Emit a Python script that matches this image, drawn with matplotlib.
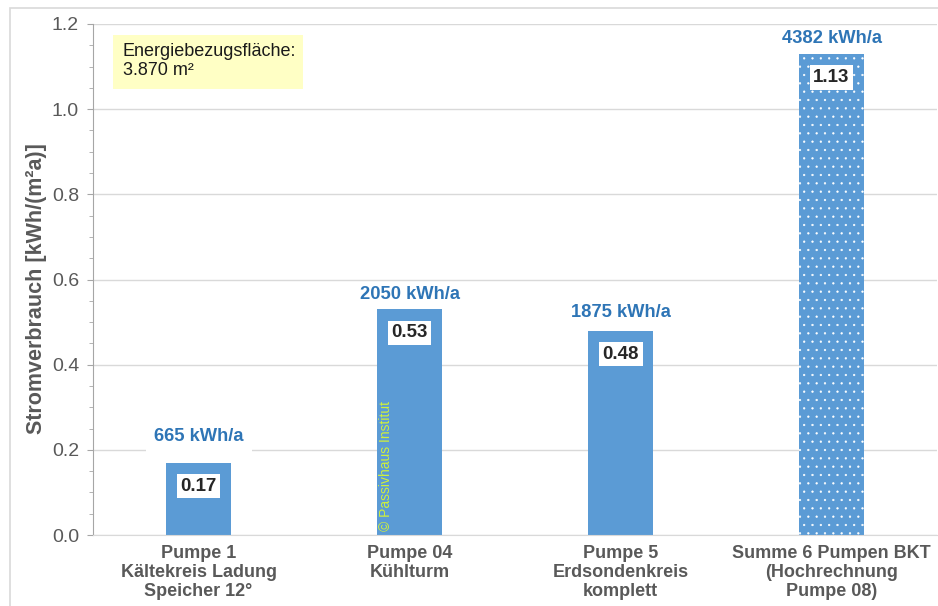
import matplotlib
matplotlib.use("Agg")
import matplotlib.pyplot as plt
from matplotlib.patches import Rectangle
from matplotlib.ticker import MultipleLocator

plt.rcParams['font.family'] = ['Liberation Sans', 'DejaVu Sans']
plt.rcParams['hatch.linewidth'] = 0.4

categories = ["Pumpe 1\nKältekreis Ladung\nSpeicher 12°",
              "Pumpe 04\nKühlturm",
              "Pumpe 5\nErdsondenkreis\nkomplett",
              "Summe 6 Pumpen BKT\n(Hochrechnung\nPumpe 08)"]
values = [0.17, 0.53, 0.48, 1.13]
kwh_labels = ["665 kWh/a", "2050 kWh/a", "1875 kWh/a", "4382 kWh/a"]
value_labels = ["0.17", "0.53", "0.48", "1.13"]
yticks = [0.0, 0.2, 0.4, 0.6, 0.8, 1.0, 1.2]

W, H = 938, 606
fig = plt.figure(figsize=(W/100, H/100), dpi=100)
ax = fig.add_axes([93/W, 1-535/H, (937-93)/W, (535-24)/H])

# outer border
fig.patches.append(Rectangle((10/W, -0.1), 1.2, 1-8/H+0.1, transform=fig.transFigure,
                             fill=False, edgecolor='#d9d9d9', linewidth=1.2))

blue = '#5b9bd5'
x = list(range(len(values)))
bars = ax.bar(x, values, width=0.31, color=blue, zorder=2, linewidth=0)
bars[3].set_hatch('..')
bars[3].set_edgecolor('white')

ax.set_xlim(-0.5, 3.5)
ax.set_ylim(0, 1.2)
ax.set_yticks(yticks)
ax.set_yticklabels([f"{v:.1f}" for v in yticks], fontsize=14, color='#595959')
ax.yaxis.set_minor_locator(MultipleLocator(0.05))
ax.tick_params(axis='y', which='major', length=4, color='#a6a6a6', pad=6)
ax.tick_params(axis='y', which='minor', length=3, color='#a6a6a6')
ax.set_xticks(x)
ax.set_xticklabels(categories, fontsize=13, fontweight='bold', color='#595959', linespacing=1.15)
ax.tick_params(axis='x', length=0, pad=7)
ax.grid(axis='y', color='#d9d9d9', linewidth=1, zorder=0)
for s in ['top', 'right']:
    ax.spines[s].set_visible(False)
ax.spines['left'].set_color('#a6a6a6')
ax.spines['bottom'].set_color('#d9d9d9')
ax.set_ylabel("Stromverbrauch [kWh/(m²a)]", fontsize=15.5, fontweight='bold', color='#595959')
ax.yaxis.set_label_coords(-0.055, 0.483)

label_offsets = [19, 11, 13, 11]
box_pads = [0.45, 0.1, 0.1, 0.05]
for xi, v, kl, vl, off, bp in zip(x, values, kwh_labels, value_labels, label_offsets, box_pads):
    ax.annotate(kl, (xi, v), xytext=(0, off), textcoords='offset points', ha='center', va='center',
                fontsize=13.2, fontweight='bold', color='#2e75b6', zorder=4,
                bbox=dict(boxstyle=f'square,pad={bp}', facecolor='white', edgecolor='none'))
    ax.annotate(vl, (xi, v), xytext=(0, -17), textcoords='offset points', ha='center', va='center',
                fontsize=13.5, fontweight='bold', color='#262626', zorder=4,
                bbox=dict(boxstyle='square,pad=0.2', facecolor='white', edgecolor='none'))

ax.add_patch(Rectangle((-0.405, 1.047), 0.9, 0.127, facecolor='#ffffc5', edgecolor='none', zorder=5))
ax.text(-0.358, 1.113, "Energiebezugsfläche:\n3.870 m²", fontsize=13, color='#1a1a1a',
        va='center', ha='left', linespacing=1.15, zorder=6)

ax.text(0.89, 0.01, "© Passivhaus Institut", rotation=90,
        fontsize=10, color='#d0f03c', ha='center', va='bottom', zorder=4)

fig.savefig("out.png", dpi=100)
